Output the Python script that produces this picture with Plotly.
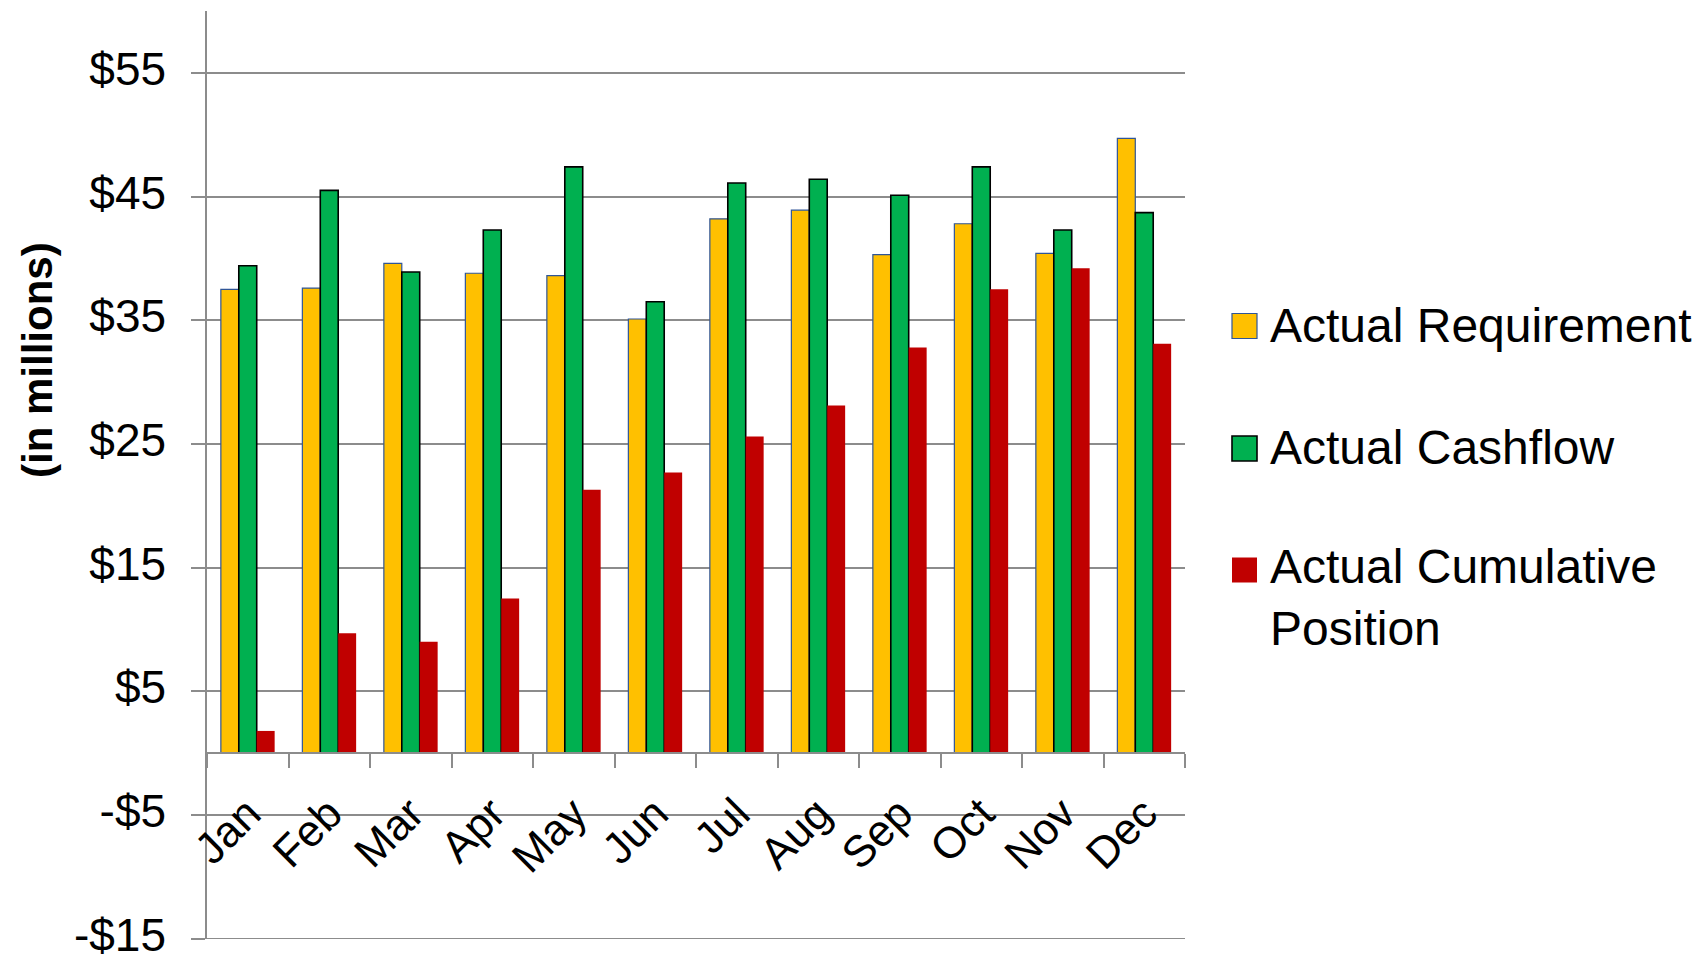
import plotly.graph_objects as go

months = ["Jan", "Feb", "Mar", "Apr", "May", "Jun", "Jul", "Aug", "Sep", "Oct", "Nov", "Dec"]
requirement = [37.5, 37.6, 39.6, 38.8, 38.6, 35.1, 43.2, 43.9, 40.3, 42.8, 40.4, 49.7]
cashflow = [39.4, 45.5, 38.9, 42.3, 47.4, 36.5, 46.1, 46.4, 45.1, 47.4, 42.3, 43.7]
cumulative = [1.8, 9.7, 9.0, 12.5, 21.3, 22.7, 25.6, 28.1, 32.8, 37.5, 39.2, 33.1]

series_names = ["Actual Requirement", "Actual Cashflow", "Actual Cumulative<br>Position"]
y_tickvals = [-15, -5, 5, 15, 25, 35, 45, 55]
y_ticktext = ["-$15", "-$5", "$5", "$15", "$25", "$35", "$45", "$55"]

FONT = "Arial, 'Liberation Sans', sans-serif"
GRID = "#8c8c8c"
styles = [
    dict(color="#FFC000", line=dict(color="#2F5597", width=1.2)),
    dict(color="#00B050", line=dict(color="#000000", width=1.6)),
    dict(color="#C00000", line=dict(color="#C00000", width=0)),
]

fig = go.Figure()
for name, vals, st in zip(series_names, [requirement, cashflow, cumulative], styles):
    fig.add_trace(go.Bar(x=months, y=vals, name=name.replace("<br>", " "),
                         marker=st, showlegend=False))

W, H = 1695, 957
ML, MR, MT, MB = 207, 510, 11, 18
pw, ph = W - ML - MR, H - MT - MB

def px_x(x):
    return (x - ML) / pw

def px_y(y):
    return (H - MB - y) / ph

fig.update_layout(
    width=W, height=H, autosize=False,
    margin=dict(l=ML, r=MR, t=MT, b=MB),
    paper_bgcolor="white", plot_bgcolor="white",
    font=dict(family=FONT, color="black"),
    barmode="group", bargap=0.34, bargroupgap=0,
    xaxis=dict(type="category", anchor="free", position=0.2, automargin=False,
               showline=True, linecolor=GRID, linewidth=1.5,
               ticks="outside", tickson="boundaries", ticklen=14,
               tickcolor=GRID, tickwidth=1.5, showgrid=False,
               tickangle=-45, ticklabelstandoff=16,
               tickfont=dict(size=44, family=FONT)),
    yaxis=dict(range=[-15.02, 60], tickvals=y_tickvals, ticktext=y_ticktext,
               automargin=False,
               showline=True, linecolor=GRID, linewidth=1.5,
               ticks="outside", ticklen=14, tickcolor=GRID, tickwidth=1.5,
               ticklabelstandoff=16, ticklabelshift=-4, ticklabeloverflow="allow",
               showgrid=True, gridcolor=GRID, gridwidth=1.5, zeroline=False,
               tickfont=dict(size=46, family=FONT)),
    showlegend=False,
)

# bottom gridline (Plotly drops gridlines lying on the plot edge)
fig.add_shape(type="line", xref="paper", yref="y", x0=0, x1=1,
              y0=y_tickvals[0], y1=y_tickvals[0],
              line=dict(color=GRID, width=1.5), layer="below")

fig.add_annotation(text="<b>(in millions)</b>", xref="paper", yref="paper",
                   x=px_x(37), y=px_y(360), textangle=-90, showarrow=False,
                   xanchor="center", yanchor="middle",
                   font=dict(size=42, family=FONT, color="black"))

sym_y = [326, 448.5, 570]
txt_y = [325, 447, 597]
for name, st, sy, ty in zip(series_names, styles, sym_y, txt_y):
    lw = st["line"]["width"]
    fig.add_shape(type="rect", xref="paper", yref="paper",
                  xsizemode="pixel", ysizemode="pixel",
                  xanchor=px_x(1244.5), yanchor=px_y(sy),
                  x0=-12.5, x1=12.5, y0=-12.5, y1=12.5,
                  fillcolor=st["color"],
                  line=dict(color=st["line"]["color"], width=lw))
    fig.add_annotation(text=name, xref="paper", yref="paper",
                       x=px_x(1268), y=px_y(ty), showarrow=False,
                       xanchor="left", yanchor="middle", align="left",
                       font=dict(size=48, family=FONT, color="black"))

fig.write_html("out.html")
